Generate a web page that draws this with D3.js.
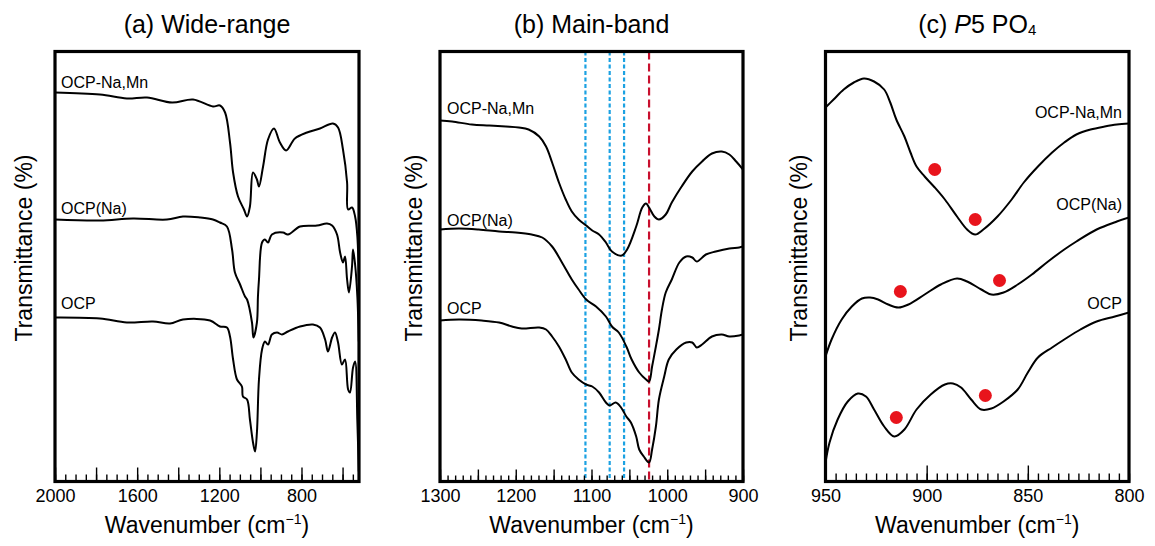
<!DOCTYPE html>
<html>
<head>
<meta charset="utf-8">
<script src="https://cdn.jsdelivr.net/npm/d3@7"></script>
<style>
  body { margin: 0; background: #fff; }
  svg { display: block; font-family: "Liberation Sans", Arial, sans-serif; }
</style>
</head>
<body>
<svg id="chart" width="1155" height="546"></svg>
<script>
// spectra: [wavenumber, transmittance (a.u., offset stacked)]
var wideNaMn = [[2000,389],[1781,387],[1650,383],[1552,384],[1430,379],[1328,382],[1231,375],[1197,376],[1172,369],[1148,339],[1133,309],[1109,285],[1080,272],[1065,265],[1051,275],[1036,309],[1017,302],[1007,295],[987,315],[963,342],[934,353],[905,339],[875,331],[832,343],[773,349],[710,353],[647,358],[622,354],[598,332],[578,299],[573,272],[554,274],[539,265],[528,245],[521,200]];
var wideNa = [[2000,262],[1781,261],[1620,263],[1455,262],[1377,265],[1294,264],[1231,262],[1197,259],[1163,255],[1138,232],[1124,209],[1099,197],[1075,185],[1065,182],[1041,159],[1034,144],[1017,159],[1012,185],[1007,202],[992,239],[978,242],[963,239],[944,247],[890,249],[866,247],[807,255],[724,256],[676,258],[651,256],[627,247],[612,229],[598,219],[588,225],[578,202],[569,189],[554,215],[549,232],[539,217],[528,185],[521,140]];
var wideOCP = [[2000,164],[1781,163],[1650,159],[1523,160],[1440,158],[1377,162],[1245,161],[1197,155],[1163,154],[1148,145],[1133,122],[1114,102],[1090,95],[1085,85],[1065,82],[1051,62],[1036,39],[1026,30],[1017,49],[1007,102],[992,132],[978,140],[963,137],[944,147],[919,149],[895,147],[866,150],[807,155],[744,157],[710,154],[685,142],[671,130],[651,144],[637,149],[622,139],[603,117],[588,122],[573,92],[564,89],[549,114],[539,120],[528,60],[521,10]];

var mainNaMn = [[1300,361],[1284,360],[1258,357],[1235,356],[1213,355],[1196,354],[1183,352],[1169,345],[1160,335],[1152,319],[1143,299],[1134,282],[1126,270],[1117,262],[1107,256],[1099,251],[1090,247],[1081,239],[1073,230],[1060,226],[1053,232],[1041,255],[1033,274],[1028,278],[1024,274],[1017,265],[1011,262],[1002,267],[994,279],[981,295],[967,310],[954,320],[941,328],[928,330],[918,327],[909,320],[900,312]];
var mainNa = [[1300,252],[1275,253],[1249,252],[1222,250],[1200,249],[1179,247],[1165,244],[1152,235],[1139,219],[1126,202],[1117,192],[1107,182],[1094,175],[1081,165],[1073,155],[1064,149],[1054,135],[1047,122],[1037,109],[1028,102],[1024,100],[1020,115],[1015,135],[1011,152],[1007,172],[1002,189],[994,202],[984,219],[975,225],[967,224],[961,220],[949,227],[936,230],[918,233],[905,234],[900,235]];
var mainOCP = [[1300,161],[1275,162],[1245,161],[1222,159],[1205,155],[1192,153],[1169,154],[1160,152],[1152,145],[1143,135],[1134,122],[1126,109],[1117,102],[1107,97],[1099,95],[1090,89],[1081,79],[1076,76],[1068,79],[1061,74],[1054,65],[1048,59],[1041,45],[1037,32],[1031,25],[1024,19],[1020,32],[1015,55],[1011,82],[1004,105],[998,122],[988,132],[975,139],[967,139],[961,134],[954,137],[941,145],[928,147],[918,145],[905,146],[900,147]];
var blueBands = [1108, 1076, 1057];
var redBand = [1024];

var p5NaMn = [[950,374],[946,382],[941,392],[936,399],[931,403],[926,400],[921,392],[918,379],[915,362],[911,345],[908,329],[905,315],[901,305],[896,294],[891,282],[885,265],[880,252],[876,247],[872,252],[865,265],[858,282],[852,299],[845,315],[838,329],[832,339],[826,347],[819,352],[812,355],[806,357],[800,358]];
var p5Na = [[950,125],[947,142],[942,162],[937,175],[932,183],[928,184],[924,182],[919,177],[914,174],[909,177],[901,187],[893,197],[885,203],[880,200],[873,192],[868,187],[862,189],[855,197],[848,207],[840,220],[832,232],[826,240],[816,252],[806,260],[800,264]];
var p5OCP = [[950,19],[948,39],[944,62],[939,80],[934,88],[930,85],[926,72],[921,55],[916,45],[911,52],[905,72],[898,87],[891,97],[887,98],[883,94],[878,82],[873,72],[868,73],[862,80],[855,92],[850,109],[845,124],[838,134],[832,142],[824,152],[816,160],[807,165],[800,169]];
var p5Dots = [[896,312],[876,262],[913,190],[864,201],[915,64],[871,86]];

var names = ["OCP-Na,Mn", "OCP(Na)", "OCP"];

var svg = d3.select("#chart");
var top_ = 51.5, bottom = 481.5;

var y = d3.scaleLinear().domain([0, 430]).range([bottom, top_]);

var panels = [
  {x0: 55, x1: 359, domain: [2000, 520], title: "(a) Wide-range", ylab: 24,
   major: d3.range(2000, 519, -200), minor: d3.range(2000, 519, -50), labels: [2000, 1600, 1200, 800],
   majorLen: 14, minorLen: 7, series: [wideNaMn, wideNa, wideOCP],
   lab: [[61, 82, "start"], [61, 208, "start"], [61, 303, "start"]]},
  {x0: 440, x1: 743, domain: [1300, 900], title: "(b) Main-band", ylab: 414,
   major: d3.range(1300, 899, -50), minor: d3.range(1300, 899, -10), labels: [1300, 1200, 1100, 1000, 900],
   majorLen: 12, minorLen: 6, series: [mainNaMn, mainNa, mainOCP],
   lab: [[447, 108, "start"], [447, 220, "start"], [447, 308, "start"]]},
  {x0: 825.5, x1: 1129, domain: [950, 800], title: null, ylab: 799,
   major: [900, 850], minor: d3.range(950, 799, -5), labels: [950, 900, 850, 800],
   majorLen: 16, minorLen: 8, series: [p5NaMn, p5Na, p5OCP],
   lab: [[1122, 112, "end"], [1122, 204, "end"], [1122, 303, "end"]]}
];

panels.forEach(function(p, i) {
  var x = d3.scaleLinear().domain(p.domain).range([p.x0, p.x1]);
  var g = svg.append("g");

  // clip so spectra stay inside the frame
  svg.append("clipPath").attr("id", "clip" + i)
    .append("rect").attr("x", p.x0).attr("y", top_).attr("width", p.x1 - p.x0).attr("height", bottom - top_);

  var line = d3.line()
    .x(function(d) { return x(d[0]); })
    .y(function(d) { return y(d[1]); })
    .curve(d3.curveCatmullRom.alpha(0.5));

  if (i == 1) {
    g.selectAll(".blue").data(blueBands).enter().append("line")
      .attr("x1", function(d) { return x(d); }).attr("x2", function(d) { return x(d); })
      .attr("y1", top_).attr("y2", bottom)
      .attr("stroke", "#1ba1e2").attr("stroke-width", 2.2)
      .attr("stroke-dasharray", "4,2.5");
    g.selectAll(".red").data(redBand).enter().append("line")
      .attr("x1", function(d) { return x(d); }).attr("x2", function(d) { return x(d); })
      .attr("y1", top_).attr("y2", bottom)
      .attr("stroke", "#c8102e").attr("stroke-width", 2.2)
      .attr("stroke-dasharray", "8,4");
  }

  g.append("g").attr("clip-path", "url(#clip" + i + ")")
    .selectAll("path").data(p.series).enter().append("path")
    .attr("d", line)
    .attr("fill", "none")
    .attr("stroke", "#000")
    .attr("stroke-width", 2)
    .attr("stroke-linejoin", "round");

  if (i == 2) {
    g.selectAll("circle").data(p5Dots).enter().append("circle")
      .attr("cx", function(d) { return x(d[0]); })
      .attr("cy", function(d) { return y(d[1]); })
      .attr("r", 6.5)
      .attr("fill", "#e8141c");
  }

  // inward ticks on the bottom edge
  g.append("g").attr("transform", "translate(0," + bottom + ")")
    .call(d3.axisTop(x).tickValues(p.minor).tickSize(p.minorLen).tickFormat(""))
    .call(function(a) { a.select(".domain").remove(); a.selectAll("line").attr("stroke-width", 1.4); });
  g.append("g").attr("transform", "translate(0," + bottom + ")")
    .call(d3.axisTop(x).tickValues(p.major).tickSize(p.majorLen).tickFormat(""))
    .call(function(a) { a.select(".domain").remove(); a.selectAll("line").attr("stroke-width", 1.4); });
  g.append("g").attr("transform", "translate(0," + (bottom + 5) + ")")
    .call(d3.axisBottom(x).tickValues(p.labels).tickSize(0).tickFormat(d3.format("d")))
    .call(function(a) {
      a.select(".domain").remove();
      a.selectAll("text").attr("font-size", 18).attr("fill", "#000")
        .attr("font-family", "Liberation Sans, Arial, sans-serif");
    });

  g.append("rect")
    .attr("x", p.x0).attr("y", top_)
    .attr("width", p.x1 - p.x0).attr("height", bottom - top_)
    .attr("fill", "none").attr("stroke", "#000").attr("stroke-width", 3.2);

  p.lab.forEach(function(l, k) {
    g.append("text").attr("x", l[0]).attr("y", l[1])
      .attr("text-anchor", l[2]).attr("dominant-baseline", "central")
      .attr("font-size", 16).text(names[k]);
  });

  var cx = (p.x0 + p.x1) / 2;
  var t = g.append("text").attr("x", cx).attr("y", 33)
    .attr("text-anchor", "middle").attr("font-size", 25);
  if (p.title) {
    t.text(p.title);
  } else {
    t.append("tspan").text("(c) ");
    t.append("tspan").attr("font-style", "italic").text("P");
    t.append("tspan").text("5 PO");
    t.append("tspan").attr("font-size", 15).attr("dy", 2).text("4");
  }

  var xl = g.append("text").attr("x", cx).attr("y", 533)
    .attr("text-anchor", "middle").attr("font-size", 23);
  xl.append("tspan").text("Wavenumber (cm");
  xl.append("tspan").attr("font-size", 14).attr("dy", -9).text("\u22121");
  xl.append("tspan").attr("dy", 9).text(")");

  g.append("text")
    .attr("transform", "translate(" + p.ylab + ",248) rotate(-90)")
    .attr("text-anchor", "middle").attr("dominant-baseline", "central")
    .attr("font-size", 23).text("Transmittance (%)");
});
</script>
</body>
</html>
